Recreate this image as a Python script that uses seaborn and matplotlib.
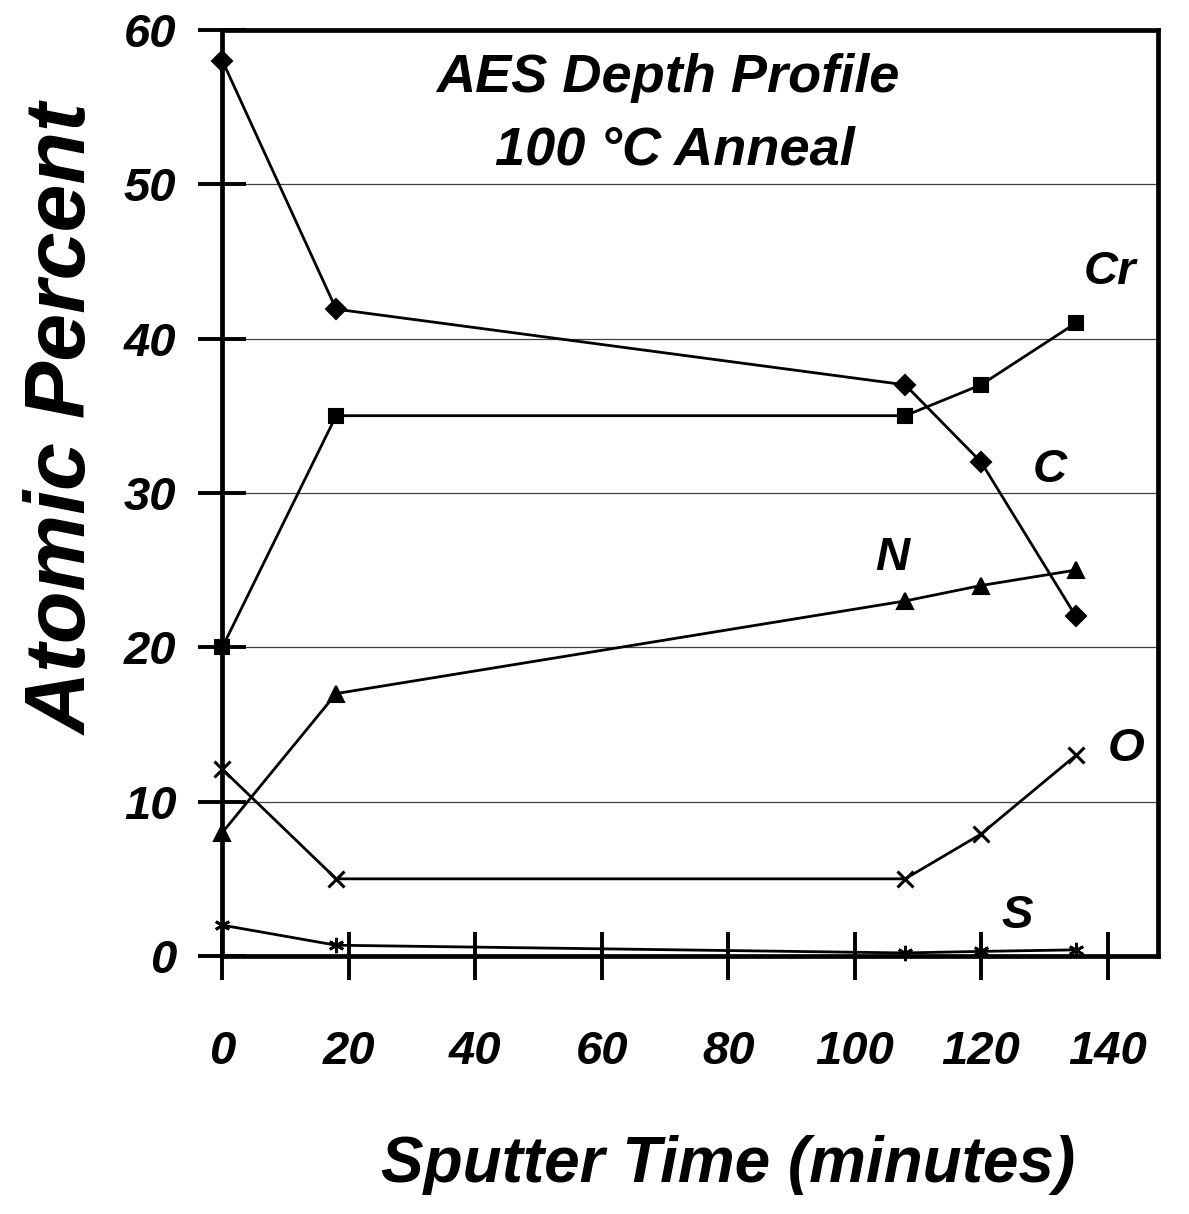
import pandas as pd
import matplotlib
matplotlib.use("Agg")
import matplotlib.pyplot as plt
import seaborn as sns

# -------------------------------------------------
# Data
# -------------------------------------------------
sputter_time = [0, 18, 108, 120, 135]
carbon = [58.0, 41.9, 37.0, 32.0, 22.0]
chromium = [20.0, 35.0, 35.0, 37.0, 41.0]
nitrogen = [8.0, 17.0, 23.0, 24.0, 25.0]
oxygen = [12.1, 5.0, 5.0, 7.9, 13.0]
sulfur = [2.0, 0.7, 0.2, 0.3, 0.4]

elements = ["C", "Cr", "N", "O", "S"]
x_ticks = [0, 20, 40, 60, 80, 100, 120, 140]
y_ticks = [0, 10, 20, 30, 40, 50, 60]

df = pd.DataFrame({
    "time": sputter_time * 5,
    "percent": carbon + chromium + nitrogen + oxygen + sulfur,
    "element": [e for e in elements for _ in sputter_time],
})

# -------------------------------------------------
# Style
# -------------------------------------------------
sns.set_theme(style="ticks")
plt.rcParams["font.family"] = ["Liberation Sans", "DejaVu Sans"]
plt.rcParams["font.weight"] = "bold"
plt.rcParams["font.style"] = "italic"

fig = plt.figure(figsize=(11.89, 12.14), dpi=100)
ax = fig.add_axes([0.187, 0.2125, 0.787, 0.763])

# marker, size, edge width per element
marker_style = {
    "C": ("D", 10, 1.5),
    "Cr": ("s", 10, 1.5),
    "N": ("^", 11, 1.5),
    "O": ("x", 12, 2.2),
    "S": ((6, 2, 0), 11, 2.0),
}
for el in elements:
    m, ms, mew = marker_style[el]
    sns.lineplot(
        data=df[df["element"] == el],
        x="time",
        y="percent",
        marker=m,
        markersize=ms,
        markeredgewidth=mew,
        markeredgecolor="black",
        markerfacecolor="black",
        color="black",
        linewidth=2.0,
        estimator=None,
        sort=False,
        clip_on=False,
        zorder=3,
        ax=ax,
    )

ax.set_xlim(0, 148)
ax.set_ylim(0, 60)
ax.set_xticks(x_ticks)
ax.set_yticks(y_ticks)
ax.tick_params(axis="both", direction="inout", length=34, width=2.8,
               labelsize=34, color="black", labelcolor="black",
               bottom=True, left=True, top=False, right=False)
ax.tick_params(axis="x", pad=36)
ax.tick_params(axis="y", pad=16)
for lab in ax.get_xticklabels() + ax.get_yticklabels():
    lab.set_fontweight("bold")
    lab.set_fontstyle("italic")

ax.grid(axis="y", color="0.25", linewidth=0.9)
ax.grid(axis="x", visible=False)
for side in ["left", "bottom", "top", "right"]:
    ax.spines[side].set_visible(True)
    ax.spines[side].set_linewidth(3.4)
    ax.spines[side].set_color("black")

ax.set_xlabel("Sputter Time (minutes)", fontsize=46, fontweight="bold",
              fontstyle="italic", color="black")
ax.set_ylabel("Atomic Percent", fontsize=62, fontweight="bold",
              fontstyle="italic", color="black")
ax.xaxis.label.set_verticalalignment("center")
ax.yaxis.label.set_verticalalignment("center")
ax.xaxis.set_label_coords(0.54, -0.226)
ax.yaxis.set_label_coords(-0.168, 0.58)

txt = dict(fontweight="bold", fontstyle="italic", ha="center", va="center",
           color="black")
ax.text(70.5, 56.9, "AES Depth Profile", fontsize=39, **txt)
ax.text(71.5, 52.2, "100 °C Anneal", fontsize=39, **txt)
ax.text(140.4, 44.3, "Cr", fontsize=34, **txt)
ax.text(130.8, 31.5, "C", fontsize=34, **txt)
ax.text(106, 25.8, "N", fontsize=34, **txt)
ax.text(142.9, 13.4, "O", fontsize=34, **txt)
ax.text(125.7, 2.6, "S", fontsize=34, **txt)

fig.savefig("out.png", dpi=100)
